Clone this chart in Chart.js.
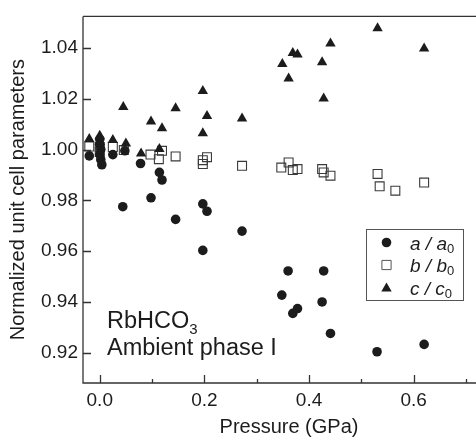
<!DOCTYPE html>
<html>
<head>
<meta charset="utf-8">
<script src="https://cdn.jsdelivr.net/npm/chart.js@4.4.0/dist/chart.umd.min.js"></script>
<style>
  html, body { margin: 0; padding: 0; background: #fff; }
</style>
</head>
<body>
<canvas id="myChart" width="476" height="437"></canvas>
<script>
// a / a0 (filled circles)
const aX = [-0.02, 0.0, 0.0, 0.002, 0.0, 0.002, 0.004, 0.025, 0.048, 0.044, 0.078, 0.098, 0.114, 0.119,
  0.145, 0.197, 0.205, 0.197, 0.272, 0.348, 0.360, 0.369, 0.378, 0.425, 0.428, 0.441, 0.530, 0.620];
const aY = [0.9975, 1.004, 1.002, 1.000, 0.998, 0.996, 0.994, 0.998, 0.9995, 0.9775, 0.9945, 0.981, 0.991, 0.988,
  0.9725, 0.9786, 0.9757, 0.9603, 0.9679, 0.9427, 0.9522, 0.9355, 0.9374, 0.940, 0.9522, 0.9276, 0.9204, 0.9233];

// b / b0 (open squares)
const bX = [-0.02, 0.0, 0.0, 0.025, 0.046, 0.097, 0.113, 0.119, 0.145, 0.197, 0.197, 0.205, 0.272,
  0.347, 0.361, 0.369, 0.378, 0.425, 0.428, 0.441, 0.531, 0.535, 0.565, 0.620];
const bY = [1.0012, 1.001, 0.999, 1.001, 0.9998, 0.998, 0.9962, 0.9995, 0.9973, 0.9958, 0.9943, 0.997, 0.9936,
  0.9929, 0.9949, 0.9919, 0.9923, 0.9923, 0.991, 0.9897, 0.9904, 0.9855, 0.9838, 0.987];

// c / c0 (filled triangles)
const cX = [-0.02, 0.0, 0.0, 0.025, 0.045, 0.05, 0.079, 0.098, 0.114, 0.119, 0.145, 0.197, 0.205, 0.197,
  0.272, 0.349, 0.361, 0.369, 0.378, 0.425, 0.428, 0.441, 0.531, 0.620];
const cY = [1.0041, 1.0054, 1.003, 1.0037, 1.0167, 1.0024, 0.9984, 1.011, 1.0002, 1.0084, 1.0162, 1.023, 1.0132, 1.0064,
  1.0122, 1.0337, 1.028, 1.038, 1.0374, 1.0344, 1.0201, 1.0417, 1.0477, 1.0398];

const xTicks = [0.0, 0.2, 0.4, 0.6];
const xMinor = [0.1, 0.3, 0.5, 0.7];
const yTicks = [0.92, 0.94, 0.96, 0.98, 1.00, 1.02, 1.04];

const FONT = "'Liberation Sans', Arial, Helvetica, sans-serif";
const INK = "#1c1c1c";

function pts(xs, ys) {
  return xs.map((x, i) => ({ x: x, y: ys[i] }));
}

// axis frame, inward ticks, legend and labels
const framePlugin = {
  id: "frame",
  afterDraw(chart) {
    const ctx = chart.ctx;
    const a = chart.chartArea;
    const sx = chart.scales.x;
    const sy = chart.scales.y;
    ctx.save();
    ctx.strokeStyle = "#333";
    ctx.lineWidth = 1.3;
    ctx.beginPath();
    ctx.moveTo(a.left, a.top);
    ctx.lineTo(chart.width, a.top);
    ctx.moveTo(a.left, a.top);
    ctx.lineTo(a.left, a.bottom);
    ctx.lineTo(chart.width, a.bottom);
    yTicks.forEach((v) => {
      const p = Math.round(sy.getPixelForValue(v)) + 0.5;
      ctx.moveTo(a.left, p);
      ctx.lineTo(a.left + 8, p);
    });
    xTicks.forEach((v) => {
      const p = Math.round(sx.getPixelForValue(v)) + 0.5;
      ctx.moveTo(p, a.bottom);
      ctx.lineTo(p, a.bottom - 8);
    });
    xMinor.forEach((v) => {
      const p = Math.round(sx.getPixelForValue(v)) + 0.5;
      ctx.moveTo(p, a.bottom);
      ctx.lineTo(p, a.bottom - 4);
    });
    ctx.stroke();

    // x axis title (sits a little right of centre in the original)
    ctx.fillStyle = INK;
    ctx.font = "20px " + FONT;
    ctx.textAlign = "center";
    ctx.textBaseline = "middle";
    ctx.fillText("Pressure (GPa)", 289, 427);

    // legend box
    const lx = 366.5, ly = 229.5;
    ctx.fillStyle = "#fff";
    ctx.fillRect(lx, ly, 97, 71);
    ctx.strokeStyle = "#555";
    ctx.lineWidth = 1;
    ctx.strokeRect(lx, ly, 97, 71);

    const rows = [
      { sym: "a", style: "circle", r: 4.8, fill: INK, bw: 0 },
      { sym: "b", style: "rect", r: 6.5, fill: "rgba(0,0,0,0)", bw: 1 },
      { sym: "c", style: "triangle", r: 6, fill: INK, bw: 0 }
    ];
    rows.forEach((row, i) => {
      const cy = 242.5 + i * 22.5;
      ctx.fillStyle = row.fill;
      ctx.strokeStyle = "#555";
      ctx.lineWidth = row.bw;
      Chart.helpers.drawPoint(ctx, { pointStyle: row.style, radius: row.r, rotation: 0, borderWidth: row.bw }, 386.5, cy + (row.style === "triangle" ? 1 : 0));
      ctx.fillStyle = INK;
      ctx.textBaseline = "alphabetic";
      ctx.textAlign = "left";
      ctx.font = "italic 19px " + FONT;
      const t = row.sym + " / " + row.sym;
      ctx.fillText(t, 410, cy + 7);
      const w = ctx.measureText(t).width;
      ctx.font = "13px " + FONT;
      ctx.fillText("0", 410 + w, cy + 10);
    });

    // sample label
    ctx.fillStyle = INK;
    ctx.textAlign = "left";
    ctx.textBaseline = "alphabetic";
    ctx.font = "23.5px " + FONT;
    ctx.fillText("RbHCO", 107, 328);
    const w2 = ctx.measureText("RbHCO").width;
    ctx.font = "15px " + FONT;
    ctx.fillText("3", 107 + w2, 334);
    ctx.font = "23.5px " + FONT;
    ctx.fillText("Ambient phase I", 107, 355);
    ctx.restore();
  }
};

const data = {
  datasets: [
    {
      label: "a / a0",
      data: pts(aX, aY),
      pointStyle: "circle",
      pointRadius: 4.8,
      backgroundColor: INK,
      borderWidth: 0
    },
    {
      label: "c / c0",
      data: pts(cX, cY),
      pointStyle: "triangle",
      pointRadius: 6,
      backgroundColor: INK,
      borderWidth: 0
    },
    {
      label: "b / b0",
      data: pts(bX, bY),
      pointStyle: "rect",
      pointRadius: 6.3,
      backgroundColor: "rgba(0,0,0,0)",
      borderColor: "#3a3a3a",
      borderWidth: 1.1
    }
  ]
};

const config = {
  type: "scatter",
  data: data,
  plugins: [framePlugin],
  options: {
    responsive: false,
    animation: false,
    layout: { padding: { top: 15, right: 0, left: 0, bottom: 0 } },
    plugins: {
      legend: { display: false },
      tooltip: { enabled: false }
    },
    scales: {
      x: {
        type: "linear",
        min: -0.032,
        max: 0.705,
        grid: { display: false, drawTicks: false },
        border: { display: false },
        afterBuildTicks: (s) => { s.ticks = xTicks.map((v) => ({ value: v })); },
        afterFit: (s) => { s.height = 54; },
        ticks: {
          padding: 6,
          color: INK,
          font: { family: FONT, size: 19 },
          callback: (v) => Number(v).toFixed(1)
        }
      },
      y: {
        type: "linear",
        min: 0.9081,
        max: 1.0524,
        grid: { display: false, drawTicks: false },
        border: { display: false },
        afterBuildTicks: (s) => { s.ticks = yTicks.map((v) => ({ value: v })); },
        afterFit: (s) => { s.width = 83; },
        ticks: {
          padding: 5,
          color: INK,
          font: { family: FONT, size: 19 },
          callback: (v) => Number(v).toFixed(2)
        },
        title: {
          display: true,
          text: "Normalized unit cell parameters",
          color: INK,
          padding: { top: 8, bottom: 0 },
          font: { family: FONT, size: 20, lineHeight: 1 }
        }
      }
    }
  }
};

const ctx = document.getElementById("myChart").getContext("2d");
new Chart(ctx, config);
</script>
</body>
</html>
